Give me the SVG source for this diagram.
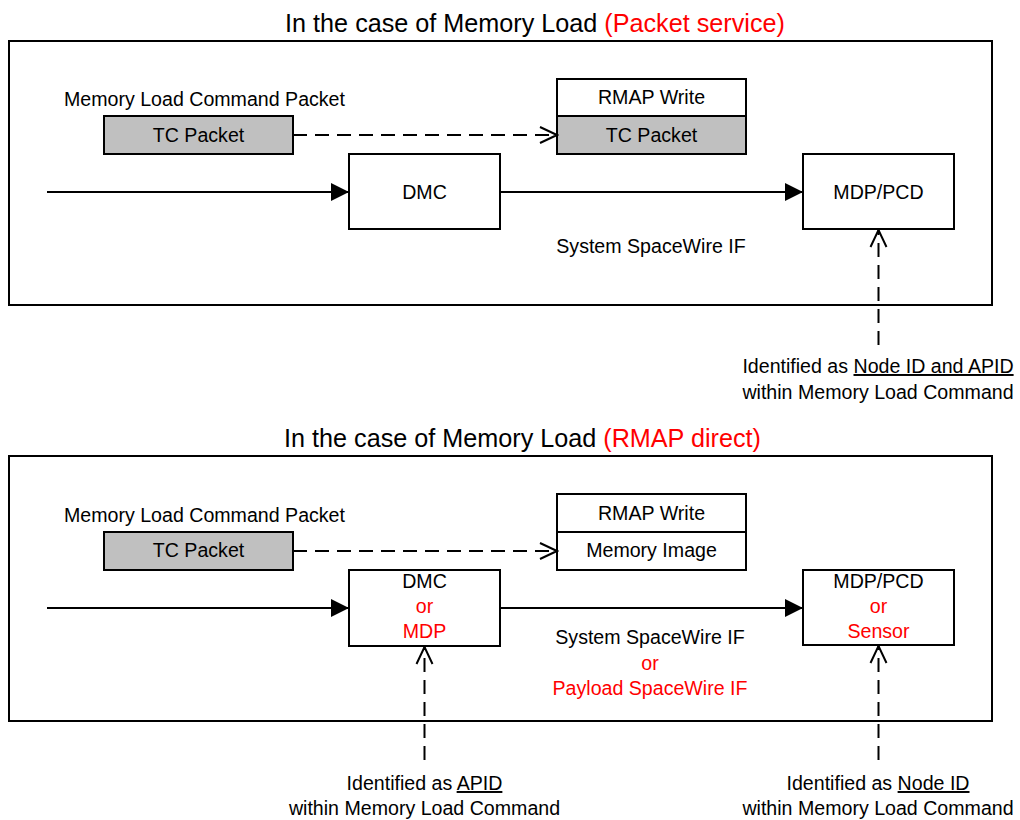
<svg xmlns="http://www.w3.org/2000/svg" width="1020" height="820" viewBox="0 0 1020 820">
  <style>
    text { font-family: "Liberation Sans", Arial, sans-serif; fill: #000; }
    .title { font-size: 25.2px; text-anchor: middle; }
    .lbl { font-size: 19.6px; }
    .mid { text-anchor: middle; }
    .red { fill: #ff0000; }
    .ul { text-decoration: underline; }
    .frame { fill: none; stroke: #000; stroke-width: 2; }
    .box { fill: #fff; stroke: #000; stroke-width: 2; }
    .gray { fill: #c0c0c0; stroke: #000; stroke-width: 2; }
    .solid { fill: none; stroke: #000; stroke-width: 2; }
    .dash { fill: none; stroke: #000; stroke-width: 2; stroke-dasharray: 14 8; }
  </style>
  <defs>
    <marker id="filled" markerWidth="18" markerHeight="18" viewBox="0 0 16 16" refX="16" refY="8" markerUnits="userSpaceOnUse" orient="auto">
      <path d="M0,0 L16,8 L0,16 Z" fill="#000"/>
    </marker>
    <marker id="open" markerWidth="20" markerHeight="20" viewBox="0 0 20 20" refX="18" refY="10" markerUnits="userSpaceOnUse" orient="auto">
      <path d="M1,2 L18,10 L1,18" fill="none" stroke="#000" stroke-width="2"/>
    </marker>
  </defs>

  <!-- Upper panel: packet service -->
  <g id="panel-packet-service">
    <text class="title" x="535" y="32">In the case of Memory Load <tspan class="red">(Packet service)</tspan></text>
    <rect class="frame" x="9" y="41" width="983" height="264"/>
  </g>

  <g id="ps-tc-packet">
    <text class="lbl" x="64" y="106">Memory Load Command Packet</text>
    <rect class="gray" x="104" y="116" width="189" height="38"/>
    <text class="lbl mid" x="198.5" y="142">TC Packet</text>
  </g>

  <g id="ps-rmap-write">
    <rect class="box" x="557" y="79" width="189" height="37"/>
    <text class="lbl mid" x="651.5" y="104">RMAP Write</text>
    <rect class="gray" x="557" y="116" width="189" height="38"/>
    <text class="lbl mid" x="651.5" y="142">TC Packet</text>
  </g>

  <g id="ps-dmc">
    <rect class="box" x="349" y="154" width="151" height="75"/>
    <text class="lbl mid" x="424.5" y="199">DMC</text>
  </g>

  <g id="ps-mdp-pcd">
    <rect class="box" x="803" y="154" width="151" height="75"/>
    <text class="lbl mid" x="878.5" y="199">MDP/PCD</text>
  </g>

  <g id="ps-if-label">
    <text class="lbl mid" x="651" y="253">System SpaceWire IF</text>
  </g>

  <g id="ps-id-note">
    <text class="lbl mid" x="878" y="373">Identified as <tspan class="ul">Node ID and APID</tspan></text>
    <text class="lbl mid" x="878" y="399">within Memory Load Command</text>
  </g>

  <!-- Lower panel: RMAP direct -->
  <g id="panel-rmap-direct">
    <text class="title" x="522.5" y="447">In the case of Memory Load <tspan class="red">(RMAP direct)</tspan></text>
    <rect class="frame" x="9" y="456" width="983" height="265"/>
  </g>

  <g id="rd-tc-packet">
    <text class="lbl" x="64" y="522">Memory Load Command Packet</text>
    <rect class="gray" x="104" y="532" width="189" height="38"/>
    <text class="lbl mid" x="198.5" y="557">TC Packet</text>
  </g>

  <g id="rd-rmap-write">
    <rect class="box" x="557" y="494" width="189" height="38"/>
    <text class="lbl mid" x="651.5" y="520">RMAP Write</text>
    <rect class="box" x="557" y="532" width="189" height="38"/>
    <text class="lbl mid" x="651.5" y="557">Memory Image</text>
  </g>

  <g id="rd-dmc">
    <rect class="box" x="349" y="570" width="151" height="76"/>
    <text class="lbl mid" x="424.5" y="588">DMC</text>
    <text class="lbl mid red" x="424.5" y="613">or</text>
    <text class="lbl mid red" x="424.5" y="638">MDP</text>
  </g>

  <g id="rd-mdp-pcd">
    <rect class="box" x="803" y="570" width="151" height="75"/>
    <text class="lbl mid" x="878.5" y="588">MDP/PCD</text>
    <text class="lbl mid red" x="878.5" y="613">or</text>
    <text class="lbl mid red" x="878.5" y="638">Sensor</text>
  </g>

  <g id="rd-if-label">
    <text class="lbl mid" x="650" y="644">System SpaceWire IF</text>
    <text class="lbl mid red" x="650" y="670">or</text>
    <text class="lbl mid red" x="650" y="695">Payload SpaceWire IF</text>
  </g>

  <g id="rd-apid-note">
    <text class="lbl mid" x="424.5" y="790">Identified as <tspan class="ul">APID</tspan></text>
    <text class="lbl mid" x="424.5" y="815">within Memory Load Command</text>
  </g>

  <g id="rd-node-note">
    <text class="lbl mid" x="878" y="790">Identified as <tspan class="ul">Node ID</tspan></text>
    <text class="lbl mid" x="878" y="815">within Memory Load Command</text>
  </g>

  <!-- Connectors -->
  <g id="connectors">
    <!-- upper panel -->
    <line class="solid" x1="47" y1="192" x2="349" y2="192" marker-end="url(#filled)"/>
    <line class="solid" x1="500" y1="192" x2="803" y2="192" marker-end="url(#filled)"/>
    <line class="dash" x1="293" y1="135" x2="557" y2="135" marker-end="url(#open)"/>
    <line class="dash" x1="878.5" y1="345" x2="878.5" y2="230" marker-end="url(#open)"/>
    <!-- lower panel -->
    <line class="solid" x1="47" y1="608" x2="349" y2="608" marker-end="url(#filled)"/>
    <line class="solid" x1="500" y1="608" x2="803" y2="608" marker-end="url(#filled)"/>
    <line class="dash" x1="293" y1="551" x2="557" y2="551" marker-end="url(#open)"/>
    <line class="dash" x1="424.5" y1="760" x2="424.5" y2="647" marker-end="url(#open)"/>
    <line class="dash" x1="878.5" y1="760" x2="878.5" y2="646" marker-end="url(#open)"/>
  </g>
</svg>
